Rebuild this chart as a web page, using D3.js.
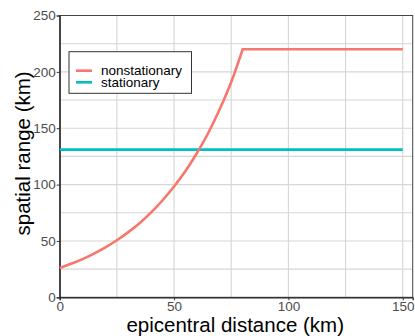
<!DOCTYPE html>
<html>
<head>
<meta charset="utf-8">
<script src="https://cdn.jsdelivr.net/npm/d3@7"></script>
<style>
  body { margin: 0; background: #fff; }
  text { font-family: "Liberation Sans", Arial, sans-serif; }
</style>
</head>
<body>
<svg width="415" height="336"></svg>
<script>
// values
var distance      = [0, 5, 10, 15, 20, 25, 30, 35, 40, 45, 50, 55, 60, 65, 70, 75, 80, 150];
var nonstationary = [26, 29.7, 33.9, 38.8, 44.3, 50.6, 57.8, 66, 75.4, 86.1, 98.3, 112, 128, 146, 167, 191, 220, 220];
var stationaryX   = [0, 150];
var stationary    = [131, 131];
var xTicks = [0, 50, 100, 150];
var yTicks = [0, 50, 100, 150, 200, 250];
var xGrid = [0, 25, 50, 75, 100, 125, 150];
var yGrid = [25, 50, 75, 100, 125, 150, 175, 200, 225];
var seriesNames = ["nonstationary", "stationary"];

var svg = d3.select("svg");
var pLeft = 59.7, pRight = 412.7, pTop = 15.5, pBottom = 297.3;

var x = d3.scaleLinear().domain([0, 154.35]).range([pLeft, pRight]);
var y = d3.scaleLinear().domain([0, 250]).range([pBottom, pTop]);
var color = d3.scaleOrdinal().domain(seriesNames).range(["#F8766D", "#00BFC4"]);

// grid
svg.append("g").selectAll("line").data(xGrid).enter().append("line")
    .attr("x1", function(d) { return x(d); }).attr("x2", function(d) { return x(d); })
    .attr("y1", pTop).attr("y2", pBottom)
    .attr("stroke", "#d6d6d6").attr("stroke-width", 1.1);
svg.append("g").selectAll("line").data(yGrid).enter().append("line")
    .attr("x1", pLeft).attr("x2", pRight)
    .attr("y1", function(d) { return y(d); }).attr("y2", function(d) { return y(d); })
    .attr("stroke", "#d6d6d6").attr("stroke-width", 1.1);

// panel border
svg.append("rect")
    .attr("x", pLeft).attr("y", pTop)
    .attr("width", pRight - pLeft).attr("height", pBottom - pTop)
    .attr("fill", "none").attr("stroke", "#444").attr("stroke-width", 1);

// axes
var xAxis = svg.append("g").attr("transform", "translate(0," + pBottom + ")")
    .call(d3.axisBottom(x).tickValues(xTicks).tickSize(3).tickPadding(1));
var yAxis = svg.append("g").attr("transform", "translate(" + pLeft + ",0)")
    .call(d3.axisLeft(y).tickValues(yTicks).tickSize(3).tickPadding(1));
[xAxis, yAxis].forEach(function(a) {
  a.select(".domain").attr("stroke", "#222").attr("stroke-width", 1.2);
  a.selectAll(".tick line").attr("stroke", "#333");
  a.selectAll(".tick text").attr("fill", "#4d4d4d").style("font-size", "13.5px")
      .style("font-family", "'Liberation Sans', Arial, sans-serif");
});

// lines
var smooth = d3.line()
    .x(function(d) { return x(d[0]); })
    .y(function(d) { return y(d[1]); })
    .curve(d3.curveMonotoneX);
var straight = d3.line()
    .x(function(d) { return x(d[0]); })
    .y(function(d) { return y(d[1]); });

svg.append("path")
    .datum(d3.zip(stationaryX, stationary))
    .attr("d", straight).attr("fill", "none")
    .attr("stroke", color("stationary")).attr("stroke-width", 2.6);

// rising part is smooth, plateau after 80 km is straight (sharp corner)
var ns = d3.zip(distance, nonstationary);
var rising = ns.filter(function(d) { return d[0] <= 80; });
var plateau = ns.filter(function(d) { return d[0] >= 80; });
svg.append("path")
    .attr("d", smooth(rising) + straight(plateau).replace(/^M/, "L"))
    .attr("fill", "none").attr("stroke-linejoin", "miter")
    .attr("stroke", color("nonstationary")).attr("stroke-width", 2.6);

// axis titles
svg.append("text")
    .attr("x", (pLeft + pRight) / 2 - 1).attr("y", 331.5)
    .attr("text-anchor", "middle").style("font-size", "20.5px").attr("fill", "#000")
    .text("epicentral distance (km)");
svg.append("text")
    .attr("transform", "translate(30," + ((pTop + pBottom) / 2 - 3) + ") rotate(-90)")
    .attr("text-anchor", "middle").style("font-size", "20.5px").attr("fill", "#000")
    .text("spatial range (km)");

// legend
var legend = svg.append("g");
legend.append("rect")
    .attr("x", 69).attr("y", 51.7).attr("width", 122.5).attr("height", 41.6)
    .attr("fill", "#fff").attr("stroke", "#333").attr("stroke-width", 1);
var item = legend.selectAll("g.item").data(seriesNames).enter().append("g")
    .attr("transform", function(d, i) { return "translate(0," + (70.7 + i * 11.6) + ")"; });
item.append("line")
    .attr("x1", 76).attr("x2", 92).attr("y1", 0).attr("y2", 0)
    .attr("stroke", function(d) { return color(d); }).attr("stroke-width", 2.6);
item.append("text")
    .attr("x", 101).attr("y", 4.5)
    .style("font-size", "13.5px").attr("fill", "#000")
    .text(function(d) { return d; });
</script>
</body>
</html>
